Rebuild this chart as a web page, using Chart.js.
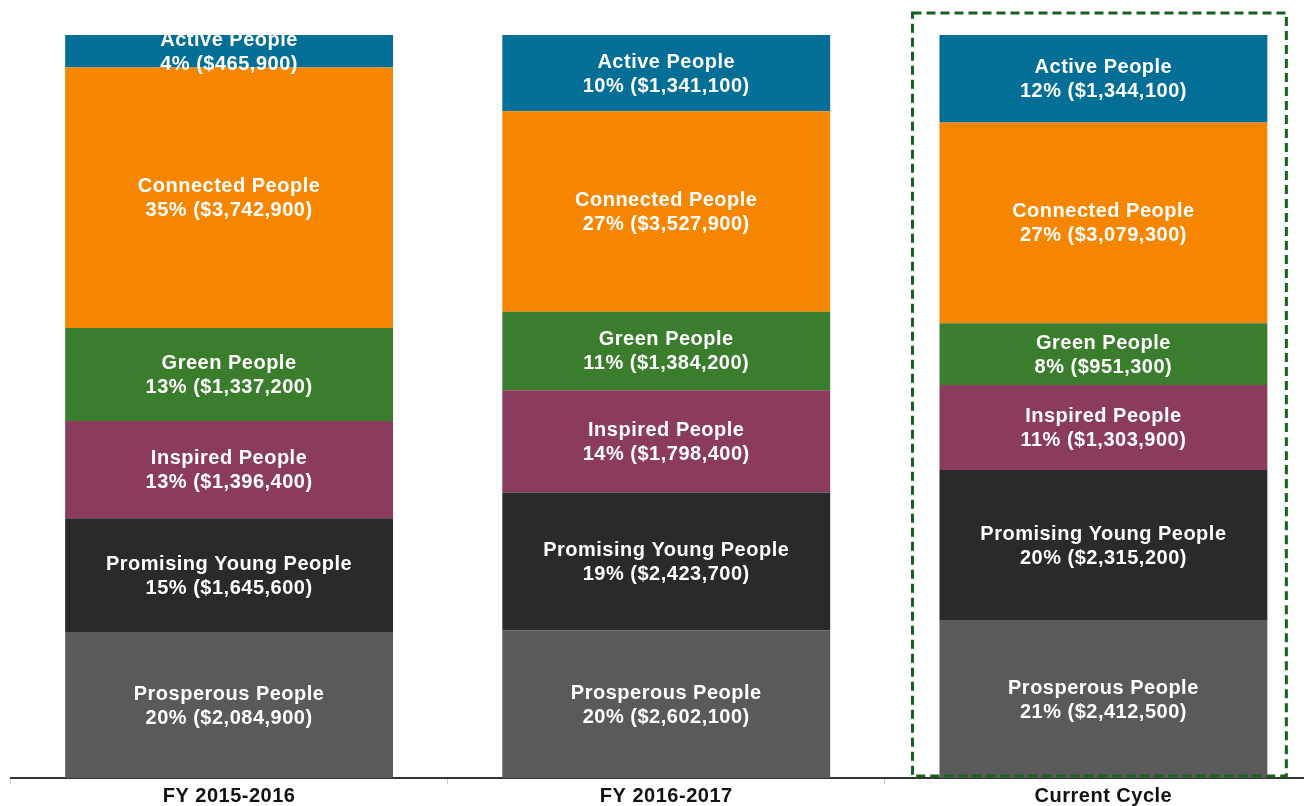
<!DOCTYPE html>
<html>
<head>
<meta charset="utf-8">
<script src="https://cdn.jsdelivr.net/npm/chart.js@4/dist/chart.umd.min.js"></script>
<style>
  html, body { margin: 0; padding: 0; background: #fff; overflow: hidden; }
  #wrap { position: absolute; left: 0; top: 0; }
</style>
</head>
<body>
<div id="wrap"><canvas id="fundChart" width="1322" height="808"></canvas></div>
<script>
// Funding split per cycle, dollar amounts

const categories = ['FY 2015-2016', 'FY 2016-2017', 'Current Cycle']

const prosperous_amounts = [2084900, 2602100, 2412500]
const promising_amounts  = [1645600, 2423700, 2315200]
const inspired_amounts   = [1396400, 1798400, 1303900]
const green_amounts      = [1337200, 1384200, 951300]
const connected_amounts  = [3742900, 3527900, 3079300]
const active_amounts     = [465900, 1341100, 1344100]

// bottom to top
const series = [
  {name: 'Prosperous People', amounts: prosperous_amounts, color: '#5a5a5a'},
  {name: 'Promising Young People', amounts: promising_amounts, color: '#2a2a2a'},
  {name: 'Inspired People', amounts: inspired_amounts, color: '#8b3c5c'},
  {name: 'Green People', amounts: green_amounts, color: '#3a7d2c'},
  {name: 'Connected People', amounts: connected_amounts, color: '#f68500'},
  {name: 'Active People', amounts: active_amounts, color: '#036f96'}
]

const highlight_index = 2  // "Current Cycle"

const totals = categories.map((c, i) => series.reduce((s, d) => s + d.amounts[i], 0))

const datasets = series.map(s => ({
  label: s.name,
  data: s.amounts.map((a, i) => a / totals[i] * 100),
  amounts: s.amounts,
  backgroundColor: s.color,
  borderWidth: 0,
  barPercentage: 0.75,
  categoryPercentage: 1.0
}))

const money = v => '$' + v.toLocaleString('en-US')

// slightly wider lettering, like the original
const spacing = {
  id: 'spacing',
  beforeDraw(chart) {
    chart.ctx.letterSpacing = '0.5px'
  }
}

// white two line labels in the middle of every segment
const segmentLabels = {
  id: 'segmentLabels',
  afterDatasetsDraw(chart) {
    const ctx = chart.ctx
    ctx.save()
    ctx.letterSpacing = '0.5px'
    ctx.fillStyle = '#ffffff'
    ctx.font = 'bold 20px "Liberation Sans", Arial, sans-serif'
    ctx.textAlign = 'center'
    ctx.textBaseline = 'middle'
    chart.data.datasets.forEach((ds, di) => {
      const meta = chart.getDatasetMeta(di)
      meta.data.forEach((bar, i) => {
        const mid = (bar.y + bar.base) / 2 + 1
        const pct = Math.round(ds.data[i])
        ctx.fillText(ds.label, bar.x, mid - 12)
        ctx.fillText(pct + '% (' + money(ds.amounts[i]) + ')', bar.x, mid + 12)
      })
    })
    ctx.restore()
  }
}

// dashed box round the current cycle
const highlightBox = {
  id: 'highlightBox',
  afterDatasetsDraw(chart) {
    const bar = chart.getDatasetMeta(0).data[highlight_index]
    if (!bar) return
    const area = chart.chartArea
    const left = bar.x - bar.width / 2 - 27
    const right = bar.x + bar.width / 2 + 19
    const top = 13
    const bottom = area.bottom - 2
    const ctx = chart.ctx
    ctx.save()
    ctx.strokeStyle = '#15601a'
    ctx.lineWidth = 3
    ctx.setLineDash([9, 5])
    ctx.strokeRect(left, top, right - left, bottom - top)
    ctx.restore()
  }
}

const ctx = document.getElementById('fundChart').getContext('2d')

const chart = new Chart(ctx, {
  type: 'bar',
  data: {labels: categories, datasets: datasets},
  options: {
    responsive: false,
    animation: false,
    layout: {padding: {left: 10.5, top: 35, right: 0, bottom: 0}},
    plugins: {
      legend: {display: false},
      tooltip: {enabled: false}
    },
    scales: {
      x: {
        stacked: true,
        grid: {drawOnChartArea: false, drawTicks: true, tickLength: 6, color: '#c8c8c8'},
        border: {display: true, color: '#333333', width: 2},
        ticks: {
          color: '#111111',
          padding: 2,
          font: {family: '"Liberation Sans", Arial, sans-serif', size: 20, weight: 'bold', lineHeight: 1}
        }
      },
      y: {
        stacked: true,
        display: false,
        min: 0,
        max: 100
      }
    }
  },
  plugins: [spacing, segmentLabels, highlightBox]
})
</script>
</body>
</html>
